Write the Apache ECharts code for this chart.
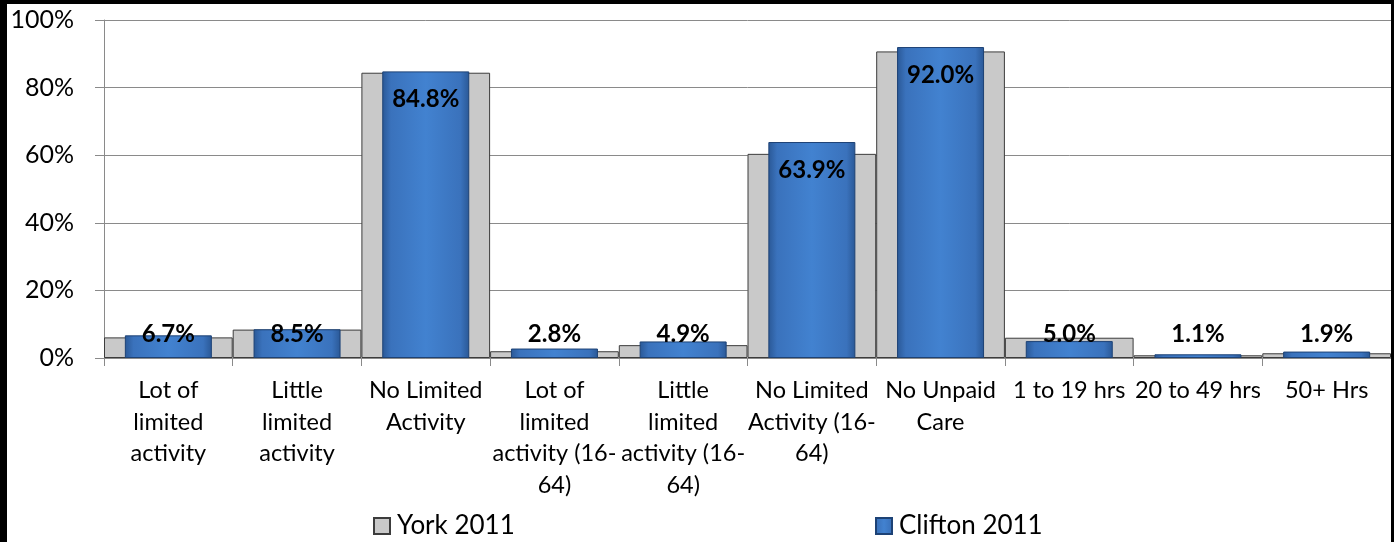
<!DOCTYPE html>
<html>
<head>
<meta charset="utf-8">
<script src="https://cdn.jsdelivr.net/npm/echarts@6/dist/echarts.min.js"></script>
<style>
html,body{margin:0;padding:0;background:#fff;}
#chart{width:1394px;height:542px;}
</style>
</head>
<body>
<div id="chart"></div>
<script>
var categories = [
  "Lot of\nlimited\nactivity",
  "Little\nlimited\nactivity",
  "No Limited\nActivity",
  "Lot of\nlimited\nactivity (16-\n64)",
  "Little\nlimited\nactivity (16-\n64)",
  "No Limited\nActivity (16-\n64)",
  "No Unpaid\nCare",
  "1 to 19 hrs",
  "20 to 49 hrs",
  "50+ Hrs"
];
var york2011 = [6.1, 8.4, 84.4, 2.0, 3.8, 60.4, 90.7, 6.0, 0.8, 1.4];
var clifton2011 = [6.7, 8.5, 84.8, 2.8, 4.9, 63.9, 92.0, 5.0, 1.1, 1.9];
var yTicks = [0, 20, 40, 60, 80, 100];

var FONT = "Lato, 'Open Sans', sans-serif";
var chart = echarts.init(document.getElementById('chart'));

var blueFill = new echarts.graphic.LinearGradient(0, 0, 1, 0, [
  {offset: 0, color: '#2a5896'},
  {offset: 0.1, color: '#3a72bc'},
  {offset: 0.5, color: '#4282d0'},
  {offset: 0.9, color: '#3a72bc'},
  {offset: 1, color: '#2a5896'}
]);

var cliftonData = clifton2011.map(function (v) {
  var big = v > 20;
  return {
    value: v,
    label: big
      ? {position: 'insideTop', distance: 16}
      : {position: 'insideBottom', distance: 12}
  };
});

chart.setOption({
  backgroundColor: '#ffffff',
  animation: false,
  textStyle: {fontFamily: FONT},
  grid: {left: 104, right: 3, top: 20, bottom: 184, containLabel: false},
  legend: [
    {
      data: ['York 2011'], left: 368, top: 508,
      itemWidth: 16, itemHeight: 16, itemGap: 0,
      textStyle: {fontFamily: FONT, fontSize: 26, color: '#000', padding: [0, 0, 0, 2]},
      icon: 'rect'
    },
    {
      data: ['Clifton 2011'], left: 870, top: 508,
      itemWidth: 16, itemHeight: 16, itemGap: 0,
      textStyle: {fontFamily: FONT, fontSize: 26, color: '#000', padding: [0, 0, 0, 2]},
      icon: 'rect'
    }
  ],
  xAxis: [
    {
      type: 'category',
      data: categories,
      axisLine: {show: true, lineStyle: {color: '#8a8a8a', width: 1}},
      axisTick: {show: true, length: 8, alignWithLabel: false, lineStyle: {color: '#8a8a8a'}},
      axisLabel: {
        interval: 0, margin: 17, color: '#000', fontFamily: FONT, fontSize: 23.5,
        lineHeight: 31.5, align: 'center', verticalAlign: 'top'
      }
    },
    {
      type: 'category',
      data: categories,
      show: false
    }
  ],
  yAxis: {
    type: 'value',
    min: 0, max: 100, interval: 20,
    axisLine: {show: true, lineStyle: {color: '#8a8a8a'}},
    axisTick: {show: true, length: 9, lineStyle: {color: '#8a8a8a'}},
    splitLine: {show: true, lineStyle: {color: '#8a8a8a', width: 1}},
    axisLabel: {
      margin: 30, color: '#000', fontFamily: FONT, fontSize: 25,
      formatter: function (v) { return yTicks.indexOf(v) >= 0 ? v + '%' : ''; }
    }
  },
  series: [
    {
      name: 'York 2011',
      type: 'bar',
      xAxisIndex: 0,
      data: york2011,
      barWidth: '100%',
      itemStyle: {color: '#c9c9c9', borderColor: '#3c3c3c', borderWidth: 1},
      z: 2
    },
    {
      name: 'Clifton 2011',
      type: 'bar',
      xAxisIndex: 1,
      data: cliftonData,
      barWidth: 87,
      itemStyle: {color: blueFill, borderColor: '#1d4275', borderWidth: 1},
      label: {
        show: true,
        formatter: function (p) { return p.value.toFixed(1) + '%'; },
        fontFamily: FONT, fontWeight: 'bold', fontSize: 24, color: '#000'
      },
      z: 3
    }
  ],
  graphic: [
    {type: 'rect', left: 0, top: 0, shape: {width: 1394, height: 4}, style: {fill: '#000'}, z: 100},
    {type: 'rect', left: 0, top: 0, shape: {width: 7, height: 542}, style: {fill: '#000'}, z: 100},
    {type: 'rect', right: 0, top: 0, shape: {width: 3, height: 542}, style: {fill: '#000'}, z: 100}
  ]
});
</script>
</body>
</html>
